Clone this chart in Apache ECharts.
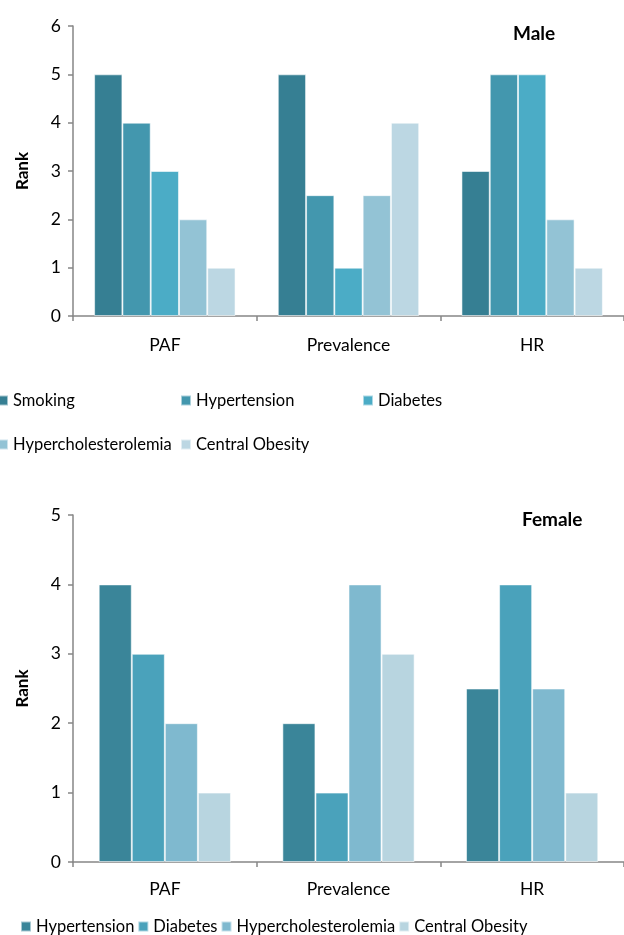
<!DOCTYPE html>
<html>
<head>
<meta charset="utf-8">
<script src="https://cdn.jsdelivr.net/npm/echarts@6/dist/echarts.min.js"></script>
<style>
html,body{margin:0;padding:0;background:#fff;}
#chart{width:624px;height:935px;}
</style>
</head>
<body>
<div id="chart"></div>
<script>
// ---- data ----
const categories = ['PAF', 'Prevalence', 'HR'];

const maleSeriesNames = ['Smoking', 'Hypertension', 'Diabetes', 'Hypercholesterolemia', 'Central Obesity'];
const maleSmoking = [5, 5, 3];
const maleHypertension = [4, 2.5, 5];
const maleDiabetes = [3, 1, 5];
const maleHyperchol = [2, 2.5, 2];
const maleObesity = [1, 4, 1];

const femaleSeriesNames = ['Hypertension', 'Diabetes', 'Hypercholesterolemia', 'Central Obesity'];
const femaleHypertension = [4, 2, 2.5];
const femaleDiabetes = [3, 1, 4];
const femaleHyperchol = [2, 4, 2.5];
const femaleObesity = [1, 3, 1];

const maleTicks = [0, 1, 2, 3, 4, 5, 6];
const femaleTicks = [0, 1, 2, 3, 4, 5];

// ---- styles ----
const maleColors = ['#367F93', '#4397AE', '#4BACC6', '#93C3D5', '#BCD7E3'];
const femaleColors = ['#3A8599', '#4AA2BB', '#7FB9CF', '#B8D5E0'];
const FONT = 'Lato';
const axisGray = '#868686';

const chart = echarts.init(document.getElementById('chart'), null, {renderer: 'canvas'});

function xAxis(gridIndex, margin) {
  return {
    type: 'category', gridIndex, data: categories,
    axisLine: {lineStyle: {color: axisGray, width: 1.5}},
    axisTick: {show: true, length: 5, lineStyle: {color: axisGray, width: 1.5}},
    axisLabel: {color: '#000', fontFamily: FONT, fontSize: 17.5, margin}
  };
}
function yAxis(gridIndex, max) {
  return {
    type: 'value', gridIndex, min: 0, max, interval: 1,
    name: 'Rank', nameLocation: 'middle', nameGap: 42, nameRotate: 90,
    nameTextStyle: {color: '#000', fontFamily: FONT, fontSize: 17, fontWeight: 'bold'},
    axisLine: {show: true, lineStyle: {color: axisGray, width: 1.5}},
    axisTick: {show: true, length: 5, lineStyle: {color: axisGray, width: 1.5}},
    splitLine: {show: false},
    axisLabel: {color: '#000', fontFamily: FONT, fontSize: 17.5, margin: 12}
  };
}

const series = [];
const maleData = [maleSmoking, maleHypertension, maleDiabetes, maleHyperchol, maleObesity];
maleData.forEach((d, i) => {
  series.push({
    type: 'bar', name: maleSeriesNames[i], data: d,
    xAxisIndex: 0, yAxisIndex: 0,
    barGap: '0%', barCategoryGap: '23%',
    itemStyle: {color: maleColors[i], borderColor: 'rgba(255,255,255,0.55)', borderWidth: 1},
    emphasis: {disabled: true}
  });
});
const femaleData = [femaleHypertension, femaleDiabetes, femaleHyperchol, femaleObesity];
femaleData.forEach((d, i) => {
  series.push({
    type: 'bar', name: 'F ' + femaleSeriesNames[i], data: d,
    xAxisIndex: 1, yAxisIndex: 1,
    barGap: '0%', barCategoryGap: '28%',
    itemStyle: {color: femaleColors[i], borderColor: 'rgba(255,255,255,0.55)', borderWidth: 1},
    emphasis: {disabled: true}
  });
});

const legendBase = {
  orient: 'horizontal', itemWidth: 10, itemHeight: 10, icon: 'rect',
  textStyle: {color: '#000', fontFamily: FONT, fontSize: 16.5},
  selectedMode: false, padding: 0, itemGap: 8
};
const malePos = [[-3, 392], [180, 392], [362, 392], [-3, 436], [180, 436]];
const legends = maleSeriesNames.map((n, i) => Object.assign({}, legendBase, {
  data: [n], left: malePos[i][0], top: malePos[i][1]
}));
legends.push(Object.assign({}, legendBase, {
  data: femaleSeriesNames.map(n => 'F ' + n),
  formatter: s => s.slice(2),
  left: 20, top: 918, itemGap: 3
}));

chart.setOption({
  animation: false,
  backgroundColor: '#fff',
  title: [
    {text: 'Male', left: 513, top: 24, padding: 0,
     textStyle: {fontFamily: FONT, fontSize: 19, fontWeight: 'bold', color: '#000'}},
    {text: 'Female', left: 522, top: 510, padding: 0,
     textStyle: {fontFamily: FONT, fontSize: 19, fontWeight: 'bold', color: '#000'}}
  ],
  grid: [
    {left: 73, top: 26, width: 555, height: 290},
    {left: 73, top: 515, width: 555, height: 347}
  ],
  xAxis: [xAxis(0, 20), xAxis(1, 18)],
  yAxis: [yAxis(0, maleTicks[maleTicks.length - 1]), yAxis(1, femaleTicks[femaleTicks.length - 1])],
  legend: legends,
  series
});
</script>
</body>
</html>
